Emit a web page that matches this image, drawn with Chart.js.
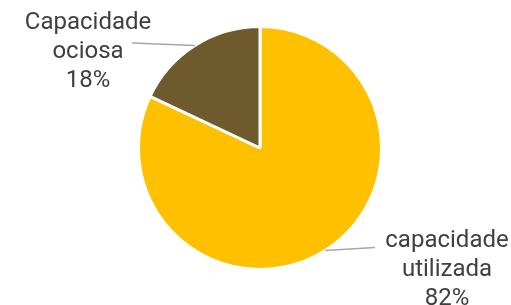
<!DOCTYPE html>
<html>
<head>
<meta charset="UTF-8">
<script src="https://cdn.jsdelivr.net/npm/chart.js@4.4.0/dist/chart.umd.min.js"></script>
<title>Capacidade</title>
<style>
  html, body { margin: 0; padding: 0; background: #fff; }
  #wrap { position: relative; width: 511px; height: 305px; }
</style>
</head>
<body>
<div id="wrap"><canvas id="pie"></canvas></div>
<script>
// dados do grafico
var categories = ['capacidade utilizada', 'Capacidade ociosa'];
var labelLines = [['capacidade', 'utilizada'], ['Capacidade', 'ociosa']];
var values = [82, 18];
var colors = ['#FFC000', '#6E5A2C'];

// posicao dos rotulos (centro do texto, linha base da primeira linha) e fim da linha guia
var labelPos = [
  { x: 447, y: 247, lineEnd: { x: 375, y: 247.5 } },
  { x: 88, y: 29, lineEnd: { x: 132, y: 43 } }
];

var labelPlugin = {
  id: 'outLabels',
  afterDatasetsDraw: function (chart) {
    var ctx = chart.ctx;
    var meta = chart.getDatasetMeta(0);
    var total = values.reduce(function (a, b) { return a + b; }, 0);
    ctx.save();
    meta.data.forEach(function (arc, i) {
      var mid = (arc.startAngle + arc.endAngle) / 2;
      var sx = arc.x + Math.cos(mid) * arc.outerRadius;
      var sy = arc.y + Math.sin(mid) * arc.outerRadius;
      var p = labelPos[i];
      ctx.strokeStyle = '#A6A6A6';
      ctx.lineWidth = 1.5;
      ctx.beginPath();
      ctx.moveTo(sx, sy);
      ctx.lineTo(p.lineEnd.x, p.lineEnd.y);
      ctx.stroke();

      ctx.fillStyle = '#404040';
      ctx.font = '24px Roboto';
      ctx.textAlign = 'center';
      ctx.textBaseline = 'alphabetic';
      var lines = labelLines[i].concat([Math.round(values[i] / total * 100) + '%']);
      lines.forEach(function (t, k) {
        ctx.fillText(t, p.x, p.y + k * 29);
      });
    });
    ctx.restore();
  }
};

new Chart(document.getElementById('pie'), {
  type: 'pie',
  data: {
    labels: categories,
    datasets: [{
      data: values,
      backgroundColor: colors,
      borderColor: '#FFFFFF',
      borderWidth: 3
    }]
  },
  options: {
    responsive: true,
    maintainAspectRatio: false,
    animation: false,
    layout: { padding: { left: 137, right: 128, top: 25, bottom: 34 } },
    plugins: {
      legend: { display: false },
      tooltip: { enabled: false }
    }
  },
  plugins: [labelPlugin]
});
</script>
</body>
</html>
